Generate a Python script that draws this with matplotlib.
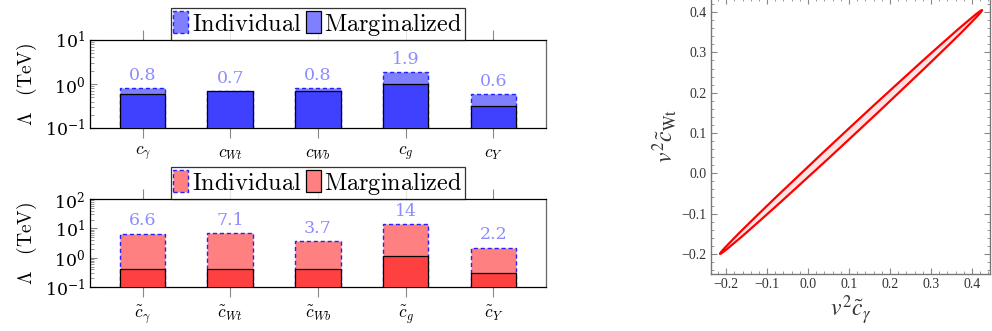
import numpy as np
import matplotlib
matplotlib.use("Agg")
import matplotlib.pyplot as plt
from matplotlib.patches import Patch, Ellipse
from matplotlib.ticker import LogLocator, MultipleLocator, NullFormatter

plt.rcParams["mathtext.fontset"] = "cm"
plt.rcParams["font.family"] = "serif"
plt.rcParams["font.serif"] = ["DejaVu Serif"]
plt.rcParams["axes.unicode_minus"] = True

### Data
labels_top = [r"$c_\gamma$", r"$c_{Wt}$", r"$c_{Wb}$", r"$c_g$", r"$c_Y$"]
indiv_top = [0.8, 0.7, 0.8, 1.9, 0.6]
marg_top = [0.59, 0.70, 0.70, 0.98, 0.31]

labels_bot = [r"$\tilde{c}_\gamma$", r"$\tilde{c}_{Wt}$", r"$\tilde{c}_{Wb}$",
              r"$\tilde{c}_g$", r"$\tilde{c}_Y$"]
indiv_bot = [6.6, 7.1, 3.7, 14, 2.2]
marg_bot = [0.40, 0.40, 0.40, 1.17, 0.30]

# 95% ellipse in (v^2 c~gamma, v^2 c~Wt) plane
ell_center = (0.105, 0.1025)
ell_length = 0.88   # full major axis
ell_width = 0.02    # full minor axis
ell_angle = 43.4    # degrees

fig = plt.figure(figsize=(9.92, 3.31), dpi=100)


def bar_panel(rect, labels, indiv, marg, c_light, c_dark, ylim, yticks):
    ax = fig.add_axes(rect)
    x = np.arange(len(labels))
    ax.bar(x, indiv, width=0.52, bottom=0, color=c_light, edgecolor="#2222ff",
           linestyle=(0, (3, 2)), linewidth=1.0, zorder=2)
    ax.bar(x, marg, width=0.52, bottom=0, color=c_dark, edgecolor="black",
           linewidth=0.9, zorder=3)
    for xi, v in zip(x, indiv):
        ax.annotate(f"{v:g}", (xi, v), xytext=(0, 3), textcoords="offset points",
                    ha="center", va="bottom", color="#8c8cff", fontsize=12.5)
    ax.set_yscale("log")
    ax.set_ylim(*ylim)
    ax.set_xlim(-0.6, 4.6)
    ax.set_yticks(yticks)
    ax.yaxis.set_minor_locator(LogLocator(base=10, subs=np.arange(2, 10)))
    ax.yaxis.set_minor_formatter(NullFormatter())
    ax.set_xticks(x)
    ax.set_xticklabels(labels, fontsize=12.5)
    ax.tick_params(axis="x", direction="out", length=7, color="#888888",
                   top=True, bottom=True, pad=5)
    ax.tick_params(axis="y", which="major", direction="in", length=5,
                   color="#888888", labelsize=12.5, right=False)
    ax.tick_params(axis="y", which="minor", direction="in", length=3,
                   color="#888888", right=False)
    ax.set_ylabel(r"$\Lambda\ \ \ \mathrm{(TeV)}$", fontsize=14, labelpad=4)
    for s in ax.spines.values():
        s.set_linewidth(0.9)
    ax.spines["right"].set_color("#666666")
    handles = [
        Patch(facecolor=c_light, edgecolor="#2222ff", linestyle=(0, (3, 2)), linewidth=1.0),
        Patch(facecolor=c_light, edgecolor="black", linewidth=0.9),
    ]
    leg = ax.legend(handles, [r"$\mathrm{Individual}$", r"$\mathrm{Marginalized}$"],
                    ncol=2, loc="lower center", bbox_to_anchor=(0.5, 1.0),
                    borderaxespad=0, fancybox=False, edgecolor="black",
                    fontsize=17.5, handlelength=0.6, handleheight=1.0,
                    handletextpad=0.15, columnspacing=0.2, borderpad=0.1)
    leg.get_frame().set_linewidth(0.9)
    return ax


bar_panel([0.0907, 0.6133, 0.4597, 0.2659], labels_top, indiv_top, marg_top,
          "#8080ff", "#4040ff", (0.1, 10), [0.1, 1, 10])
bar_panel([0.0907, 0.1329, 0.4597, 0.2659], labels_bot, indiv_bot, marg_bot,
          "#ff8080", "#ff4040", (0.1, 100), [0.1, 1, 10, 100])

### Right: correlation ellipse (top edge of the frame sits just off the figure)
ax = fig.add_axes([0.7167, 0.1722, 0.2812, 0.8338])
ax.add_patch(Ellipse(ell_center, ell_length, ell_width, angle=ell_angle,
                     facecolor="#fde4e4", edgecolor="red", linewidth=1.6))
ax.set_xlim(-0.237, 0.444)
ax.set_ylim(-0.25, 0.435)
ax.xaxis.set_major_locator(MultipleLocator(0.1))
ax.yaxis.set_major_locator(MultipleLocator(0.1))
ax.xaxis.set_minor_locator(MultipleLocator(0.02))
ax.yaxis.set_minor_locator(MultipleLocator(0.02))
ax.xaxis.set_major_formatter(lambda v, p: f"{v:.1f}".replace("-", "\u2212"))
ax.yaxis.set_major_formatter(lambda v, p: f"{v:.1f}".replace("-", "\u2212"))
ax.tick_params(which="both", direction="in", top=True, right=True,
               color="#888888", labelsize=10, labelcolor="#333333", pad=3)
ax.tick_params(which="major", length=4, width=0.8)
ax.tick_params(which="minor", length=2, width=0.6)
for lbl in ax.get_xticklabels() + ax.get_yticklabels():
    lbl.set_family("Liberation Serif")
for s in ax.spines.values():
    s.set_color("#777777")
    s.set_linewidth(1.0)
ax.set_xlabel(r"$v^2\tilde{c}_{\gamma}$", fontsize=17, math_fontfamily="stix",
              color="#333333", labelpad=2)
ax.set_ylabel(r"$v^2\tilde{c}_{\mathrm{Wt}}$", fontsize=17, math_fontfamily="stix",
              color="#333333", labelpad=2)

fig.savefig("out.png", dpi=100)
